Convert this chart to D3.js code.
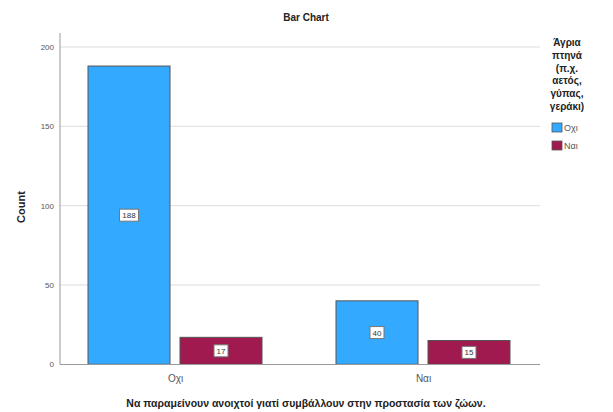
<!DOCTYPE html>
<html><head><meta charset="utf-8">
<script src="https://cdn.jsdelivr.net/npm/d3@7"></script>
<style>body{margin:0;background:#fff}svg{display:block;font-family:Arial,"Liberation Sans",sans-serif}</style>
</head><body>
<script>
const categories = ["Οχι", "Ναι"];
const seriesNames = ["Οχι", "Ναι"];
const seriesOxi = [188, 40];
const seriesNai = [17, 15];
const yTicks = [0, 50, 100, 150, 200];
const colors = ["#33aaff", "#a11a4f"];
const legendTitle = ["Άγρια", "πτηνά", "(π.χ.", "αετός,", "γύπας,", "γεράκι)"];

const W = 613, H = 412;
const svg = d3.select("body").append("svg").attr("width", W).attr("height", H);

const x0 = d3.scalePoint().domain(categories).range([175, 423]);
const y = d3.scaleLinear().domain([0, 200]).range([364.3, 47]);

// gridlines
svg.append("g").selectAll("line").data(yTicks.filter(d => d > 0)).join("line")
  .attr("x1", 60).attr("x2", 540).attr("y1", d => y(d)).attr("y2", d => y(d))
  .attr("stroke", "#dcdcdc").attr("stroke-width", 1);

// y axis
const ya = svg.append("g").attr("transform", "translate(60,0)")
  .call(d3.axisLeft(y).tickValues(yTicks).tickSize(0).tickPadding(6));
ya.select(".domain").remove();
ya.selectAll("text").attr("font-size", 8).attr("fill", "#555").attr("font-family", "Arial,Liberation Sans,sans-serif");
svg.append("line").attr("x1", 60).attr("x2", 60).attr("y1", 33).attr("y2", 364.5).attr("stroke", "#999");

// bars
const data = categories.map((c, i) => ({ c, vals: [seriesOxi[i], seriesNai[i]] }));
const groups = svg.append("g").selectAll("g").data(data).join("g");
const barW = 82;
groups.each(function (d) {
  const g = d3.select(this);
  const cx = x0(d.c);
  d.vals.forEach((v, j) => {
    const bx = j === 0 ? cx - barW - 5 : cx + 5;
    g.append("rect").attr("x", bx).attr("y", y(v)).attr("width", barW).attr("height", y(0) - y(v))
      .attr("fill", colors[j]).attr("stroke", "#555").attr("stroke-width", 1);
    const my = (y(v) + y(0)) / 2;
    const txt = String(v);
    const tw = txt.length * 5 + 4;
    g.append("rect").attr("x", bx + barW / 2 - tw / 2).attr("y", my - 6).attr("width", tw).attr("height", 12)
      .attr("fill", "#fff").attr("stroke", "#777").attr("stroke-width", 1);
    g.append("text").attr("x", bx + barW / 2).attr("y", my + 3).attr("text-anchor", "middle")
      .attr("font-size", 8).attr("fill", "#333").text(txt);
  });
});

// x axis
svg.append("line").attr("x1", 60).attr("x2", 540).attr("y1", 364.5).attr("y2", 364.5).attr("stroke", "#999");
const xa = svg.append("g").attr("transform", "translate(0,364.5)")
  .call(d3.axisBottom(x0).tickSize(0).tickPadding(10));
xa.select(".domain").remove();
xa.selectAll("text").attr("font-size", 10).attr("fill", "#555").attr("font-family", "Arial,Liberation Sans,sans-serif");

// titles
svg.append("text").attr("x", 306).attr("y", 21).attr("text-anchor", "middle")
  .attr("font-size", 10).attr("font-weight", "bold").attr("fill", "#222").text("Bar Chart");
svg.append("text").attr("transform", "translate(25,207) rotate(-90)").attr("text-anchor", "middle")
  .attr("font-size", 11).attr("font-weight", "bold").attr("fill", "#222").text("Count");
svg.append("text").attr("x", 306).attr("y", 407).attr("text-anchor", "middle")
  .attr("font-size", 10.5).attr("font-weight", "bold").attr("fill", "#222")
  .text("Να παραμείνουν ανοιχτοί γιατί συμβάλλουν στην προστασία των ζώων.");

// legend
const lg = svg.append("g");
legendTitle.forEach((t, i) => {
  lg.append("text").attr("x", 567).attr("y", 46 + i * 12.8).attr("text-anchor", "middle")
    .attr("font-size", 10).attr("font-weight", "bold").attr("fill", "#222").text(t);
});
seriesNames.forEach((s, i) => {
  lg.append("rect").attr("x", 552).attr("y", 123 + i * 18).attr("width", 10).attr("height", 9)
    .attr("fill", colors[i]).attr("stroke", "#555").attr("stroke-width", 0.8);
  lg.append("text").attr("x", 564).attr("y", 131 + i * 18).attr("font-size", 9).attr("fill", "#555").text(s);
});
</script>
</body></html>
